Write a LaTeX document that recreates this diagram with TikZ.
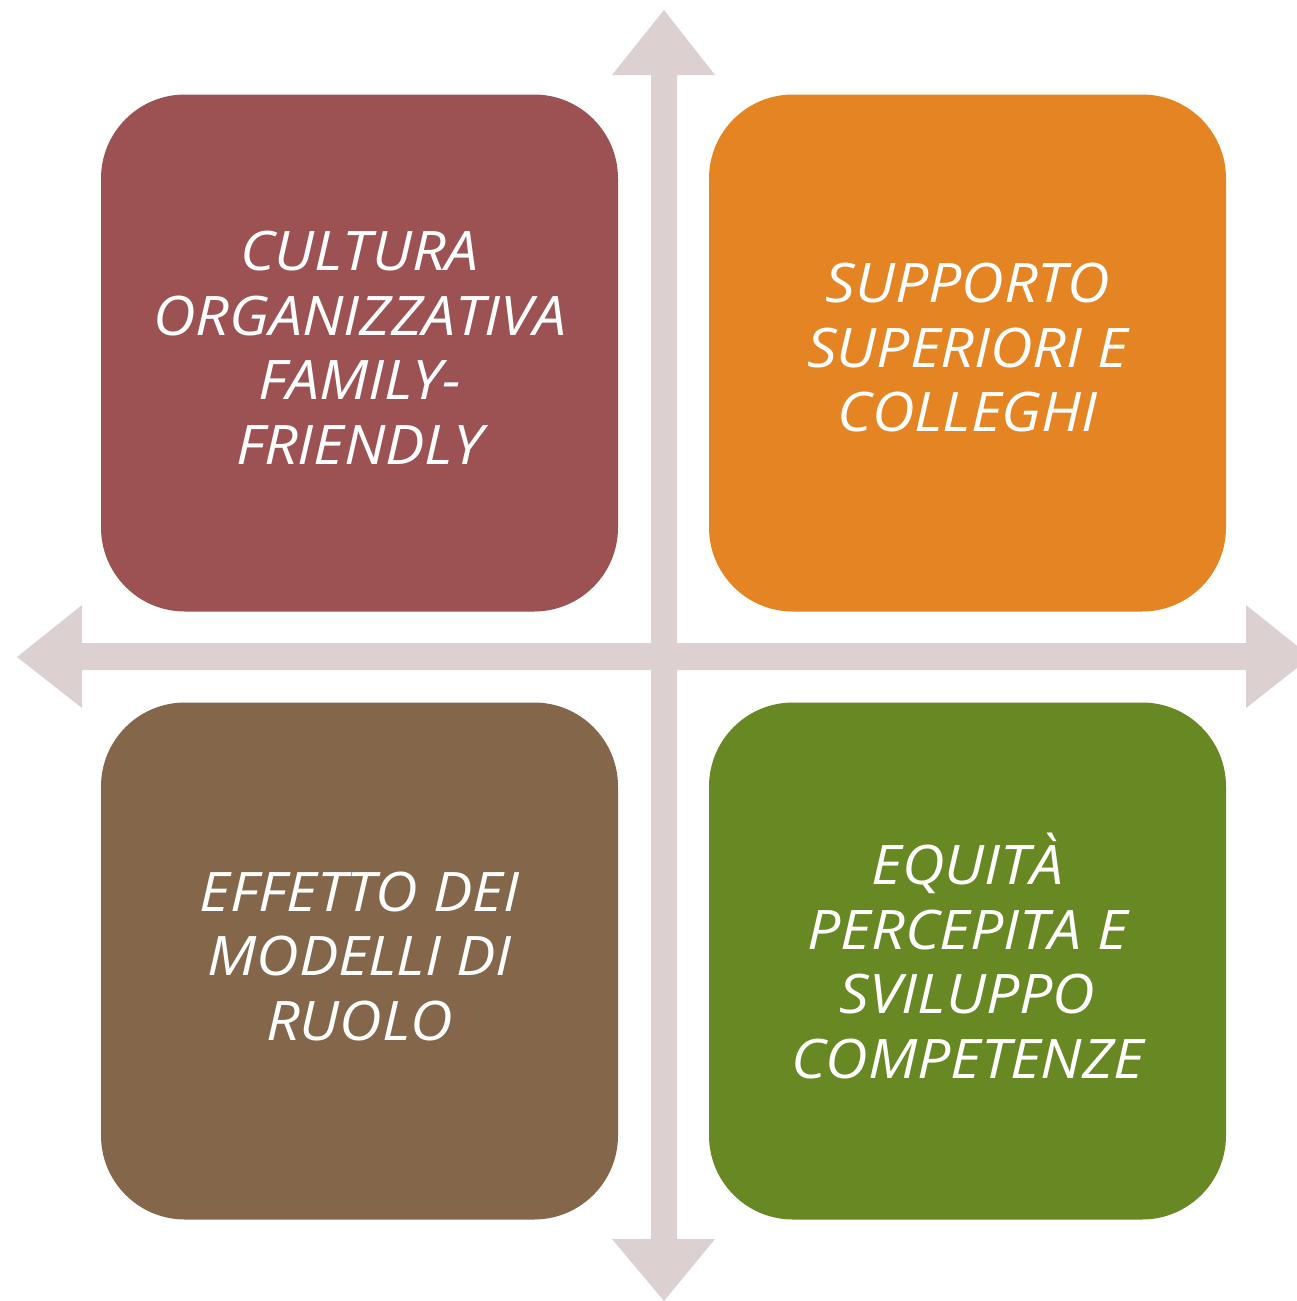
\documentclass[tikz,border=0pt]{standalone}
\usepackage{fontspec}
\setmainfont{Open Sans}
\newfontfamily\quadfont[FakeStretch=1.08]{Open Sans}
\definecolor{arrowc}{HTML}{DDD0D1}
\definecolor{boxA}{HTML}{9C5253}
\definecolor{boxB}{HTML}{E48423}
\definecolor{boxC}{HTML}{84674A}
\definecolor{boxD}{HTML}{678822}
\tikzset{
  quad/.style={rounded corners=84pt, minimum width=517pt, minimum height=517pt, inner sep=0pt},
  quadtext/.style={text=white, align=center, inner sep=0pt, yshift=5pt,
    font=\quadfont\fontsize{54.5}{64.5}\selectfont\itshape},
  axis/.style={fill=arrowc, draw=none}
}
\begin{document}
\begin{tikzpicture}[x=1pt,y=-1pt]
\useasboundingbox (0,0) rectangle (1297,1301);
% vertical double arrow
\fill[axis] (664,10) -- (715,75) -- (677,75) -- (677,1239) -- (715,1239) -- (664,1301) -- (612,1239) -- (651,1239) -- (651,75) -- (612,75) -- cycle;
% horizontal double arrow
\fill[axis] (17,657) -- (82,605) -- (82,643) -- (1246,643) -- (1246,605) -- (1311,657) -- (1246,708) -- (1246,670) -- (82,670) -- (82,708) -- cycle;
\node[quad, fill=boxA] (cultura) at (359.5,353) {};
\node[quad, fill=boxB] (supporto) at (967.5,353) {};
\node[quad, fill=boxC] (effetto) at (359.5,961) {};
\node[quad, fill=boxD] (equita) at (967.5,961) {};
\node[quadtext] (culturaT) at (cultura.center) {CULTURA\\ORGANIZZATIVA\\FAMILY-\\FRIENDLY};
\node[quadtext] (supportoT) at (supporto.center) {SUPPORTO\\SUPERIORI E\\COLLEGHI};
\node[quadtext] (effettoT) at (effetto.center) {EFFETTO DEI\\MODELLI DI\\RUOLO};
\node[quadtext] (equitaT) at (equita.center) {EQUITÀ\\PERCEPITA E\\SVILUPPO\\COMPETENZE};
\end{tikzpicture}
\end{document}
